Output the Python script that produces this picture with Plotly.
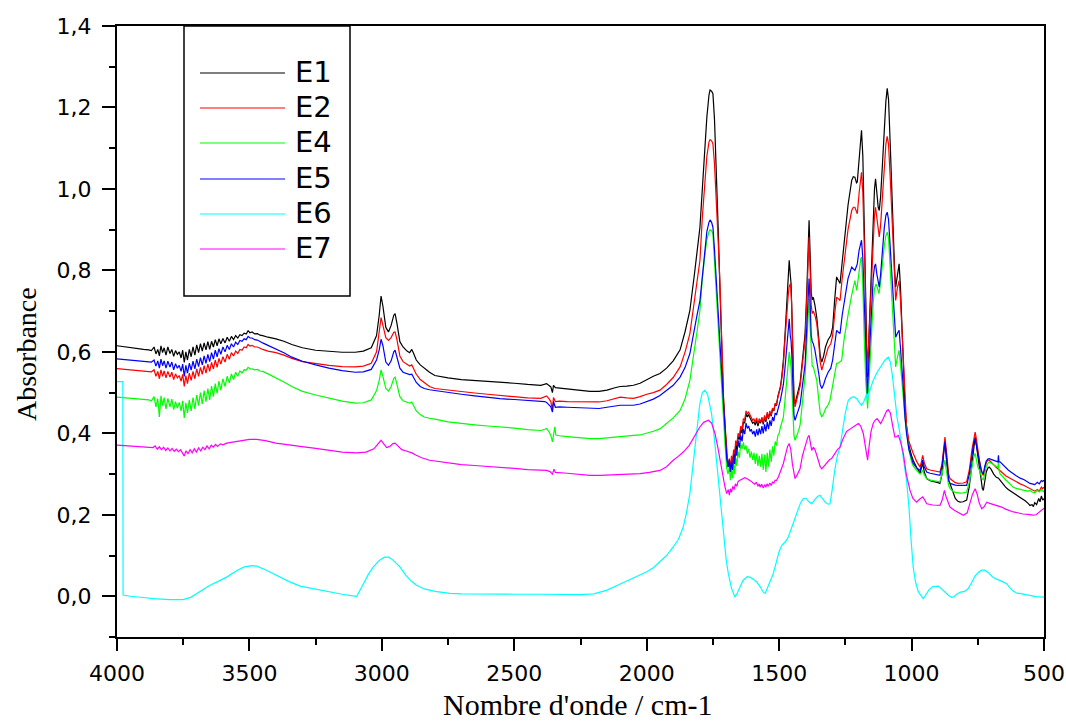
import plotly.graph_objects as go

# FTIR absorbance spectra: (wavenumber cm-1, absorbance) pairs per sample
E1 = [(4000,0.615),(3980,0.613),(3960,0.611),(3940,0.609),(3920,0.608),(3900,0.606),(3880,0.605),(3870,0.603),
      (3860,0.612),(3853,0.595),(3846,0.606),(3840,0.590),(3834,0.615),(3828,0.598),(3822,0.610),(3815,0.592),
      (3808,0.612),(3800,0.596),(3793,0.606),(3786,0.589),(3779,0.603),(3772,0.594),(3765,0.600),(3758,0.585),
      (3752,0.604),(3746,0.574),(3740,0.600),(3734,0.580),(3727,0.606),(3720,0.588),(3713,0.612),(3706,0.592),
      (3699,0.617),(3692,0.598),(3685,0.620),(3678,0.602),(3671,0.622),(3664,0.605),(3657,0.625),(3650,0.606),
      (3643,0.626),(3636,0.612),(3629,0.630),(3622,0.615),(3615,0.632),(3608,0.620),(3600,0.633),(3592,0.622),
      (3584,0.636),(3576,0.626),(3568,0.638),(3560,0.630),(3552,0.640),(3544,0.634),(3536,0.642),(3528,0.640),
      (3520,0.646),(3512,0.644),(3505,0.652),(3498,0.647),(3490,0.649),(3480,0.644),(3470,0.645),(3460,0.641),
      (3450,0.640),(3430,0.636),(3400,0.632),(3370,0.626),(3340,0.618),(3300,0.610),(3250,0.604),(3200,0.601),
      (3150,0.599),(3100,0.599),(3070,0.602),(3040,0.610),(3020,0.640),(3010,0.690),(3003,0.737),(2996,0.712),
      (2985,0.660),(2975,0.649),(2965,0.665),(2955,0.690),(2950,0.694),(2943,0.670),(2932,0.625),(2920,0.612),
      (2905,0.602),(2895,0.598),(2887,0.606),(2880,0.596),(2870,0.580),(2855,0.568),(2840,0.560),(2820,0.550),
      (2800,0.542),(2750,0.536),(2700,0.532),(2650,0.530),(2600,0.528),(2554,0.526),(2500,0.523),(2450,0.520),
      (2400,0.518),(2378,0.522),(2370,0.517),(2362,0.514),(2356,0.500),(2352,0.518),(2345,0.512),(2330,0.511),
      (2300,0.509),(2250,0.505),(2214,0.503),(2180,0.503),(2150,0.506),(2120,0.512),(2100,0.515),(2075,0.516),
      (2050,0.518),(2025,0.523),(2000,0.532),(1975,0.540),(1950,0.547),(1925,0.560),(1900,0.578),(1874,0.605),
      (1855,0.650),(1837,0.702),(1820,0.790),(1810,0.850),(1799,0.906),(1790,1.000),(1780,1.110),(1773,1.176),
      (1765,1.230),(1761,1.243),(1755,1.240),(1750,1.234),(1744,1.170),(1738,1.070),(1730,0.900),(1723,0.743),
      (1716,0.579),(1710,0.480),(1704,0.415),(1698,0.340),(1693,0.317),(1688,0.330),(1684,0.305),(1680,0.335),
      (1676,0.318),(1672,0.350),(1668,0.340),(1664,0.372),(1660,0.360),(1655,0.392),(1650,0.385),(1645,0.410),
      (1640,0.400),(1635,0.428),(1630,0.425),(1625,0.448),(1620,0.440),(1615,0.446),(1610,0.438),(1605,0.432),
      (1600,0.425),(1595,0.428),(1590,0.420),(1585,0.432),(1580,0.418),(1575,0.430),(1570,0.425),(1565,0.436),
      (1560,0.422),(1555,0.440),(1550,0.428),(1545,0.448),(1540,0.435),(1535,0.452),(1530,0.442),(1525,0.460),
      (1520,0.455),(1515,0.472),(1510,0.468),(1505,0.490),(1500,0.500),(1495,0.515),(1490,0.540),(1484,0.579),
      (1478,0.640),(1470,0.740),(1465,0.800),(1462,0.825),(1458,0.790),(1455,0.768),(1452,0.700),(1448,0.560),
      (1444,0.490),(1440,0.473),(1435,0.485),(1430,0.500),(1421,0.523),(1412,0.580),(1402,0.645),(1395,0.760),
      (1390,0.880),(1387,0.923),(1383,0.840),(1379,0.745),(1375,0.728),(1371,0.734),(1365,0.715),(1358,0.685),
      (1350,0.630),(1345,0.590),(1339,0.575),(1332,0.590),(1325,0.612),(1315,0.630),(1305,0.640),(1298,0.660),
      (1290,0.730),(1283,0.784),(1276,0.775),(1270,0.768),(1262,0.820),(1251,0.890),(1240,0.960),(1226,1.021),
      (1220,1.030),(1214,1.029),(1208,1.015),(1205,1.017),(1198,1.080),(1192,1.135),(1189,1.144),(1184,1.080),
      (1180,0.950),(1176,0.808),(1171,0.620),(1167,0.538),(1162,0.620),(1156,0.720),(1151,0.808),(1145,0.930),
      (1140,1.000),(1136,1.025),(1131,0.990),(1126,0.955),(1122,0.947),(1117,0.980),(1110,1.060),(1103,1.150),
      (1097,1.215),(1092,1.247),(1087,1.220),(1080,1.100),(1074,0.970),(1069,0.890),(1064,0.800),(1060,0.759),
      (1054,0.790),(1047,0.816),(1042,0.760),(1036,0.660),(1031,0.563),(1025,0.470),(1019,0.415),(1010,0.370),
      (1000,0.345),(994,0.334),(980,0.315),(968,0.302),(963,0.315),(958,0.326),(952,0.305),(943,0.289),
      (930,0.284),(915,0.282),(900,0.279),(893,0.277),(885,0.300),(879,0.350),(874,0.379),(869,0.340),
      (864,0.300),(860,0.285),(855,0.277),(845,0.258),(835,0.240),(825,0.233),(817,0.231),(805,0.232),
      (792,0.236),(782,0.270),(772,0.330),(765,0.370),(760,0.391),(755,0.370),(750,0.340),(744,0.317),
      (738,0.290),(733,0.265),(729,0.260),(724,0.285),(718,0.305),(712,0.315),(707,0.317),(700,0.312),
      (690,0.300),(680,0.292),(672,0.290),(666,0.285),(655,0.275),(645,0.268),(635,0.262),(625,0.258),
      (617,0.253),(610,0.250),(600,0.246),(590,0.244),(580,0.238),(570,0.234),(560,0.228),(553,0.223),
      (545,0.225),(540,0.220),(535,0.230),(528,0.225),(520,0.240),(515,0.232),(510,0.246),(505,0.236),(500,0.240)]

E2 = [(4000,0.559),(3980,0.558),(3960,0.557),(3940,0.556),(3920,0.555),(3900,0.553),(3880,0.552),(3870,0.551),
      (3860,0.556),(3853,0.540),(3846,0.552),(3840,0.534),(3834,0.556),(3828,0.540),(3822,0.553),(3815,0.536),
      (3808,0.552),(3800,0.538),(3793,0.550),(3786,0.532),(3779,0.546),(3772,0.536),(3765,0.542),(3758,0.528),
      (3752,0.545),(3746,0.515),(3740,0.542),(3734,0.522),(3727,0.548),(3720,0.530),(3713,0.552),(3706,0.534),
      (3699,0.558),(3692,0.540),(3685,0.562),(3678,0.545),(3671,0.566),(3664,0.548),(3657,0.570),(3650,0.552),
      (3643,0.574),(3636,0.558),(3629,0.580),(3622,0.562),(3615,0.584),(3608,0.570),(3600,0.588),(3592,0.575),
      (3584,0.594),(3576,0.582),(3568,0.598),(3560,0.590),(3552,0.602),(3544,0.596),(3536,0.606),(3528,0.604),
      (3520,0.612),(3512,0.610),(3505,0.618),(3498,0.614),(3490,0.616),(3480,0.612),(3470,0.612),(3460,0.608),
      (3450,0.606),(3430,0.602),(3400,0.598),(3370,0.592),(3340,0.584),(3300,0.576),(3250,0.571),(3200,0.567),
      (3150,0.564),(3100,0.563),(3070,0.565),(3040,0.572),(3020,0.600),(3010,0.645),(3003,0.684),(2996,0.665),
      (2985,0.635),(2975,0.628),(2965,0.635),(2955,0.648),(2950,0.649),(2943,0.630),(2932,0.590),(2920,0.576),
      (2905,0.568),(2895,0.565),(2887,0.568),(2880,0.560),(2870,0.545),(2855,0.532),(2840,0.524),(2820,0.515),
      (2800,0.510),(2750,0.506),(2700,0.502),(2650,0.499),(2600,0.496),(2554,0.493),(2500,0.490),(2450,0.487),
      (2400,0.486),(2385,0.490),(2378,0.492),(2370,0.486),(2362,0.478),(2356,0.456),(2352,0.488),(2345,0.478),
      (2330,0.479),(2300,0.478),(2250,0.477),(2214,0.477),(2180,0.477),(2150,0.480),(2120,0.486),(2100,0.489),
      (2075,0.487),(2050,0.486),(2025,0.490),(2000,0.496),(1975,0.500),(1950,0.506),(1925,0.520),(1900,0.537),
      (1874,0.563),(1855,0.600),(1837,0.645),(1820,0.720),(1810,0.770),(1799,0.825),(1790,0.930),(1780,1.029),
      (1773,1.080),(1765,1.115),(1761,1.121),(1755,1.118),(1750,1.111),(1744,1.060),(1738,0.989),(1730,0.870),
      (1723,0.760),(1716,0.600),(1710,0.490),(1704,0.420),(1698,0.350),(1693,0.320),(1688,0.338),(1684,0.312),
      (1680,0.345),(1676,0.325),(1672,0.360),(1668,0.348),(1664,0.382),(1660,0.370),(1655,0.400),(1650,0.392),
      (1645,0.418),(1640,0.410),(1635,0.436),(1630,0.432),(1625,0.455),(1620,0.448),(1615,0.452),(1610,0.444),
      (1605,0.440),(1600,0.432),(1595,0.436),(1590,0.426),(1585,0.438),(1580,0.424),(1575,0.436),(1570,0.428),
      (1565,0.440),(1560,0.426),(1555,0.444),(1550,0.432),(1545,0.452),(1540,0.438),(1535,0.455),(1530,0.444),
      (1525,0.462),(1520,0.456),(1515,0.474),(1510,0.470),(1505,0.488),(1500,0.498),(1495,0.512),(1490,0.535),
      (1484,0.570),(1478,0.630),(1470,0.710),(1465,0.745),(1462,0.760),(1457,0.768),(1453,0.720),(1449,0.600),
      (1445,0.500),(1440,0.465),(1435,0.478),(1430,0.492),(1421,0.515),(1412,0.570),(1402,0.630),(1395,0.740),
      (1390,0.850),(1387,0.882),(1383,0.800),(1379,0.715),(1375,0.694),(1371,0.700),(1365,0.690),(1358,0.670),
      (1350,0.620),(1345,0.575),(1339,0.555),(1332,0.570),(1325,0.590),(1315,0.610),(1305,0.620),(1298,0.640),
      (1290,0.695),(1283,0.734),(1276,0.730),(1270,0.726),(1262,0.780),(1251,0.840),(1240,0.900),(1226,0.947),
      (1220,0.955),(1214,0.955),(1208,0.940),(1205,0.939),(1198,0.990),(1192,1.035),(1189,1.041),(1184,0.990),
      (1180,0.900),(1176,0.800),(1171,0.620),(1167,0.547),(1162,0.620),(1156,0.700),(1151,0.780),(1145,0.880),
      (1140,0.935),(1136,0.955),(1131,0.925),(1126,0.890),(1122,0.882),(1117,0.910),(1110,0.980),(1103,1.060),
      (1097,1.110),(1092,1.129),(1087,1.110),(1080,1.020),(1074,0.920),(1069,0.860),(1064,0.770),(1060,0.726),
      (1054,0.755),(1047,0.775),(1042,0.730),(1036,0.640),(1031,0.560),(1025,0.470),(1019,0.420),(1010,0.380),
      (1000,0.360),(994,0.351),(980,0.330),(968,0.317),(963,0.330),(958,0.346),(952,0.328),(943,0.313),
      (930,0.310),(915,0.308),(900,0.306),(893,0.305),(885,0.325),(879,0.370),(874,0.391),(869,0.360),
      (864,0.320),(860,0.300),(855,0.289),(845,0.283),(835,0.279),(825,0.277),(817,0.277),(805,0.278),
      (792,0.281),(782,0.310),(772,0.360),(765,0.390),(760,0.403),(755,0.385),(750,0.355),(744,0.334),
      (738,0.315),(733,0.300),(729,0.297),(724,0.315),(718,0.328),(712,0.334),(707,0.334),(700,0.330),
      (690,0.322),(680,0.316),(672,0.312),(666,0.309),(655,0.302),(645,0.296),(635,0.292),(625,0.288),
      (617,0.285),(605,0.280),(590,0.276),(575,0.272),(560,0.266),(553,0.264),(545,0.262),(535,0.258),
      (525,0.262),(518,0.258),(510,0.268),(505,0.264),(500,0.268)]

E4 = [(4000,0.489),(3980,0.488),(3960,0.486),(3940,0.485),(3920,0.484),(3900,0.483),(3880,0.482),(3870,0.480),
      (3860,0.490),(3853,0.465),(3846,0.485),(3840,0.440),(3834,0.492),(3828,0.468),(3822,0.488),(3815,0.460),
      (3808,0.486),(3800,0.465),(3793,0.484),(3786,0.458),(3779,0.478),(3772,0.462),(3765,0.476),(3758,0.455),
      (3752,0.480),(3746,0.438),(3740,0.475),(3734,0.450),(3727,0.482),(3720,0.455),(3713,0.488),(3706,0.460),
      (3699,0.494),(3692,0.468),(3685,0.500),(3678,0.472),(3671,0.505),(3664,0.478),(3657,0.510),(3650,0.482),
      (3643,0.516),(3636,0.490),(3629,0.522),(3622,0.498),(3615,0.528),(3608,0.506),(3600,0.534),(3592,0.515),
      (3584,0.540),(3576,0.524),(3568,0.546),(3560,0.532),(3552,0.550),(3544,0.540),(3536,0.553),(3528,0.548),
      (3520,0.556),(3512,0.555),(3505,0.562),(3498,0.558),(3490,0.558),(3480,0.556),(3470,0.557),(3460,0.553),
      (3450,0.552),(3430,0.546),(3400,0.537),(3370,0.526),(3340,0.515),(3300,0.503),(3250,0.494),(3200,0.486),
      (3150,0.479),(3100,0.474),(3070,0.475),(3040,0.482),(3020,0.505),(3010,0.530),(3003,0.556),(2996,0.540),
      (2985,0.510),(2975,0.504),(2965,0.515),(2955,0.535),(2950,0.538),(2943,0.520),(2932,0.490),(2920,0.480),
      (2905,0.476),(2895,0.474),(2887,0.477),(2880,0.468),(2870,0.455),(2855,0.446),(2840,0.440),(2820,0.437),
      (2800,0.435),(2750,0.428),(2700,0.424),(2650,0.421),(2600,0.418),(2554,0.416),(2500,0.413),(2450,0.409),
      (2400,0.407),(2385,0.410),(2378,0.412),(2370,0.405),(2362,0.395),(2356,0.379),(2352,0.398),(2347,0.416),
      (2343,0.396),(2330,0.394),(2300,0.392),(2250,0.389),(2214,0.387),(2180,0.387),(2150,0.389),(2120,0.392),
      (2100,0.393),(2075,0.394),(2050,0.395),(2025,0.396),(2000,0.400),(1975,0.405),(1950,0.411),(1925,0.425),
      (1900,0.438),(1874,0.456),(1855,0.485),(1837,0.530),(1820,0.600),(1810,0.650),(1799,0.702),(1790,0.780),
      (1780,0.841),(1773,0.875),(1765,0.895),(1761,0.900),(1755,0.897),(1750,0.890),(1744,0.820),(1738,0.750),
      (1730,0.660),(1723,0.580),(1716,0.480),(1710,0.420),(1704,0.370),(1698,0.315),(1693,0.300),(1688,0.318),
      (1684,0.285),(1680,0.310),(1676,0.290),(1672,0.325),(1668,0.300),(1664,0.340),(1660,0.320),(1655,0.355),
      (1650,0.340),(1645,0.375),(1640,0.362),(1635,0.378),(1630,0.360),(1625,0.370),(1620,0.350),(1615,0.362),
      (1610,0.340),(1605,0.355),(1600,0.335),(1595,0.352),(1590,0.325),(1585,0.350),(1580,0.320),(1575,0.345),
      (1570,0.318),(1565,0.350),(1560,0.310),(1555,0.348),(1550,0.305),(1545,0.352),(1540,0.318),(1535,0.360),
      (1530,0.330),(1525,0.368),(1520,0.345),(1515,0.380),(1510,0.370),(1505,0.395),(1500,0.400),(1495,0.415),
      (1490,0.428),(1484,0.440),(1478,0.480),(1470,0.540),(1465,0.585),(1462,0.600),(1458,0.580),(1455,0.560),
      (1452,0.510),(1448,0.440),(1444,0.395),(1440,0.383),(1435,0.390),(1430,0.400),(1421,0.420),(1412,0.470),
      (1402,0.540),(1395,0.630),(1390,0.705),(1387,0.730),(1383,0.660),(1379,0.590),(1375,0.565),(1371,0.563),
      (1365,0.550),(1358,0.530),(1350,0.480),(1345,0.450),(1339,0.440),(1332,0.448),(1325,0.460),(1315,0.470),
      (1308,0.481),(1298,0.520),(1290,0.555),(1283,0.572),(1277,0.572),(1270,0.575),(1264,0.579),(1255,0.630),
      (1248,0.660),(1239,0.694),(1226,0.740),(1214,0.775),(1207,0.751),(1198,0.800),(1192,0.828),(1189,0.833),
      (1184,0.760),(1178,0.620),(1173,0.530),(1166,0.461),(1160,0.540),(1156,0.600),(1151,0.653),(1145,0.720),
      (1140,0.755),(1134,0.767),(1128,0.755),(1123,0.743),(1117,0.770),(1110,0.820),(1103,0.860),(1097,0.885),
      (1092,0.894),(1087,0.880),(1080,0.800),(1074,0.740),(1069,0.694),(1064,0.620),(1060,0.563),(1054,0.585),
      (1047,0.604),(1042,0.570),(1037,0.530),(1031,0.480),(1025,0.440),(1019,0.407),(1010,0.360),(1000,0.330),
      (994,0.320),(981,0.309),(968,0.300),(963,0.303),(958,0.309),(952,0.298),(943,0.289),(930,0.285),
      (915,0.283),(900,0.282),(893,0.281),(885,0.300),(879,0.325),(874,0.334),(869,0.310),(864,0.285),
      (860,0.272),(855,0.265),(845,0.258),(835,0.255),(825,0.254),(817,0.253),(805,0.254),(792,0.256),
      (782,0.280),(772,0.320),(765,0.342),(760,0.351),(755,0.335),(750,0.318),(744,0.310),(738,0.295),
      (733,0.288),(729,0.285),(724,0.300),(718,0.318),(712,0.326),(707,0.330),(700,0.327),(690,0.322),
      (680,0.318),(674,0.316),(672,0.332),(670,0.310),(666,0.301),(655,0.292),(645,0.286),(635,0.280),
      (625,0.274),(617,0.268),(605,0.265),(590,0.262),(575,0.260),(560,0.258),(553,0.260),(545,0.256),
      (535,0.254),(525,0.260),(518,0.256),(510,0.262),(505,0.258),(500,0.256)]

E5 = [(4000,0.583),(3980,0.582),(3960,0.580),(3940,0.579),(3920,0.578),(3900,0.577),(3880,0.576),(3870,0.575),
      (3860,0.580),(3853,0.565),(3846,0.578),(3840,0.560),(3834,0.582),(3828,0.566),(3822,0.578),(3815,0.560),
      (3808,0.577),(3800,0.563),(3793,0.575),(3786,0.556),(3779,0.571),(3772,0.560),(3765,0.567),(3758,0.552),
      (3752,0.570),(3746,0.540),(3740,0.567),(3734,0.548),(3727,0.572),(3720,0.555),(3713,0.577),(3706,0.558),
      (3699,0.582),(3692,0.564),(3685,0.586),(3678,0.568),(3671,0.590),(3664,0.572),(3657,0.594),(3650,0.576),
      (3643,0.598),(3636,0.582),(3629,0.604),(3622,0.588),(3615,0.608),(3608,0.594),(3600,0.612),(3592,0.600),
      (3584,0.616),(3576,0.606),(3568,0.620),(3560,0.612),(3552,0.624),(3544,0.618),(3536,0.628),(3528,0.626),
      (3520,0.632),(3512,0.630),(3505,0.638),(3498,0.634),(3490,0.634),(3480,0.630),(3470,0.629),(3460,0.625),
      (3450,0.622),(3430,0.616),(3400,0.608),(3370,0.598),(3340,0.587),(3300,0.577),(3250,0.568),(3200,0.560),
      (3150,0.554),(3100,0.550),(3070,0.551),(3040,0.557),(3020,0.580),(3010,0.605),(3003,0.631),(2996,0.615),
      (2985,0.575),(2975,0.567),(2965,0.578),(2955,0.600),(2950,0.604),(2943,0.585),(2932,0.560),(2920,0.550),
      (2905,0.546),(2895,0.544),(2887,0.545),(2880,0.538),(2870,0.525),(2855,0.515),(2840,0.510),(2820,0.507),
      (2800,0.505),(2750,0.500),(2700,0.496),(2650,0.492),(2600,0.488),(2554,0.485),(2500,0.483),(2450,0.481),
      (2400,0.479),(2385,0.478),(2378,0.476),(2370,0.470),(2362,0.465),(2356,0.452),(2352,0.478),(2345,0.464),
      (2330,0.465),(2300,0.464),(2250,0.462),(2214,0.461),(2180,0.461),(2150,0.464),(2120,0.468),(2100,0.469),
      (2075,0.469),(2050,0.469),(2025,0.472),(2000,0.478),(1975,0.484),(1950,0.493),(1925,0.505),(1900,0.518),
      (1874,0.538),(1855,0.562),(1837,0.596),(1820,0.650),(1810,0.690),(1799,0.726),(1790,0.790),(1780,0.857),
      (1773,0.895),(1765,0.918),(1761,0.924),(1755,0.918),(1750,0.906),(1744,0.850),(1738,0.784),(1730,0.700),
      (1723,0.620),(1716,0.520),(1710,0.450),(1704,0.400),(1698,0.340),(1693,0.318),(1688,0.335),(1684,0.305),
      (1680,0.330),(1676,0.310),(1672,0.345),(1668,0.325),(1664,0.362),(1660,0.345),(1655,0.382),(1650,0.365),
      (1645,0.395),(1640,0.380),(1635,0.410),(1630,0.398),(1625,0.425),(1620,0.412),(1615,0.418),(1610,0.405),
      (1605,0.410),(1600,0.398),(1595,0.406),(1590,0.392),(1585,0.410),(1580,0.395),(1575,0.412),(1570,0.398),
      (1565,0.418),(1560,0.400),(1555,0.422),(1550,0.405),(1545,0.428),(1540,0.410),(1535,0.432),(1530,0.418),
      (1525,0.440),(1520,0.430),(1515,0.450),(1510,0.445),(1505,0.462),(1500,0.470),(1495,0.482),(1490,0.500),
      (1484,0.520),(1478,0.560),(1470,0.620),(1465,0.665),(1462,0.681),(1458,0.640),(1455,0.628),(1452,0.590),
      (1448,0.500),(1444,0.445),(1440,0.432),(1435,0.440),(1430,0.452),(1421,0.470),(1412,0.515),(1402,0.570),
      (1395,0.670),(1390,0.750),(1387,0.780),(1383,0.720),(1379,0.640),(1375,0.625),(1371,0.620),(1365,0.605),
      (1358,0.580),(1350,0.545),(1345,0.520),(1339,0.510),(1332,0.520),(1325,0.535),(1315,0.550),(1305,0.560),
      (1298,0.580),(1290,0.625),(1283,0.653),(1276,0.648),(1270,0.645),(1262,0.690),(1251,0.740),(1240,0.780),
      (1226,0.808),(1220,0.805),(1214,0.800),(1208,0.810),(1205,0.816),(1198,0.850),(1192,0.870),(1189,0.874),
      (1184,0.830),(1180,0.760),(1176,0.680),(1171,0.560),(1167,0.497),(1162,0.560),(1156,0.640),(1151,0.700),
      (1145,0.780),(1140,0.810),(1136,0.816),(1131,0.790),(1126,0.765),(1122,0.759),(1117,0.790),(1110,0.850),
      (1103,0.905),(1097,0.935),(1092,0.943),(1087,0.925),(1080,0.850),(1074,0.780),(1069,0.730),(1064,0.665),
      (1060,0.636),(1054,0.645),(1047,0.653),(1042,0.610),(1036,0.560),(1031,0.510),(1025,0.440),(1019,0.400),
      (1010,0.360),(1000,0.336),(994,0.326),(980,0.315),(968,0.309),(963,0.320),(958,0.334),(952,0.318),
      (943,0.305),(930,0.302),(915,0.300),(900,0.298),(893,0.297),(885,0.320),(879,0.360),(874,0.379),
      (869,0.350),(864,0.305),(860,0.285),(855,0.277),(845,0.274),(835,0.273),(825,0.272),(817,0.272),
      (805,0.272),(792,0.272),(782,0.300),(772,0.350),(765,0.378),(760,0.387),(755,0.370),(750,0.345),
      (744,0.330),(738,0.312),(733,0.303),(729,0.301),(724,0.318),(718,0.332),(712,0.337),(707,0.338),
      (700,0.336),(690,0.333),(680,0.331),(674,0.330),(672,0.346),(670,0.330),(666,0.330),(655,0.322),
      (645,0.316),(635,0.310),(625,0.305),(617,0.301),(605,0.296),(590,0.290),(575,0.286),(560,0.280),
      (553,0.277),(545,0.276),(535,0.274),(525,0.280),(518,0.276),(510,0.284),(505,0.282),(500,0.285)]

E6 = [(4000,0.527),(3990,0.527),(3978,0.527),(3977,0.003),(3950,0.000),(3900,-0.003),(3864,-0.006),(3800,-0.008),
      (3751,-0.008),(3720,-0.002),(3690,0.010),(3649,0.027),(3620,0.036),(3586,0.047),(3550,0.062),(3520,0.072),
      (3490,0.075),(3473,0.074),(3440,0.065),(3410,0.055),(3385,0.047),(3350,0.036),(3309,0.025),(3250,0.017),
      (3200,0.010),(3150,0.005),(3110,0.001),(3095,0.000),(3070,0.030),(3050,0.055),(3032,0.072),(3010,0.088),
      (2990,0.096),(2975,0.096),(2960,0.090),(2945,0.080),(2932,0.072),(2910,0.052),(2890,0.038),(2869,0.027),
      (2840,0.018),(2800,0.012),(2743,0.007),(2700,0.006),(2600,0.005),(2500,0.005),(2400,0.005),(2300,0.004),
      (2250,0.004),(2200,0.006),(2150,0.015),(2100,0.030),(2060,0.042),(2025,0.052),(2000,0.060),(1975,0.070),
      (1950,0.084),(1925,0.100),(1900,0.121),(1880,0.140),(1862,0.170),(1850,0.205),(1837,0.252),(1825,0.320),
      (1811,0.407),(1800,0.470),(1790,0.500),(1780,0.506),(1770,0.495),(1763,0.475),(1755,0.448),(1745,0.390),
      (1735,0.320),(1723,0.244),(1710,0.150),(1700,0.090),(1692,0.056),(1680,0.020),(1667,-0.002),(1658,0.008),
      (1648,0.023),(1635,0.040),(1620,0.048),(1610,0.047),(1598,0.042),(1585,0.035),(1570,0.022),(1560,0.010),
      (1553,0.007),(1545,0.018),(1535,0.035),(1522,0.056),(1510,0.085),(1500,0.110),(1490,0.125),(1484,0.129),
      (1475,0.135),(1465,0.146),(1455,0.165),(1445,0.185),(1434,0.203),(1420,0.228),(1409,0.240),(1398,0.240),
      (1390,0.233),(1377,0.227),(1365,0.238),(1355,0.245),(1346,0.248),(1335,0.240),(1325,0.230),(1315,0.226),
      (1308,0.227),(1300,0.260),(1290,0.310),(1280,0.345),(1270,0.366),(1260,0.410),(1250,0.450),(1239,0.481),
      (1228,0.488),(1218,0.490),(1207,0.485),(1198,0.476),(1189,0.469),(1180,0.478),(1175,0.490),(1170,0.497),
      (1167,0.481),(1163,0.495),(1155,0.510),(1145,0.530),(1130,0.550),(1115,0.565),(1100,0.580),(1088,0.587),
      (1080,0.575),(1072,0.540),(1063,0.481),(1055,0.440),(1044,0.399),(1035,0.350),(1027,0.320),(1019,0.285),
      (1010,0.220),(1002,0.140),(994,0.072),(985,0.035),(975,0.012),(965,0.002),(956,-0.006),(945,0.005),
      (935,0.015),(920,0.024),(905,0.026),(899,0.025),(890,0.020),(875,0.010),(860,0.002),(850,-0.002),
      (842,-0.002),(830,0.005),(815,0.010),(800,0.012),(786,0.019),(772,0.035),(760,0.050),(745,0.060),
      (735,0.064),(723,0.064),(710,0.058),(695,0.048),(680,0.042),(666,0.039),(655,0.035),(641,0.031),
      (630,0.022),(615,0.012),(600,0.007),(591,0.007),(570,0.004),(550,0.001),(530,-0.001),(504,-0.002),(500,-0.002)]

E7 = [(4000,0.371),(3980,0.370),(3960,0.369),(3940,0.368),(3920,0.368),(3900,0.367),(3880,0.366),(3864,0.365),
      (3856,0.369),(3848,0.361),(3840,0.367),(3832,0.360),(3824,0.366),(3816,0.358),(3808,0.364),(3800,0.357),
      (3792,0.363),(3784,0.356),(3776,0.361),(3768,0.355),(3760,0.360),(3752,0.352),(3746,0.344),(3740,0.357),
      (3732,0.350),(3724,0.360),(3716,0.352),(3708,0.362),(3700,0.354),(3692,0.364),(3684,0.357),(3676,0.366),
      (3668,0.360),(3660,0.369),(3652,0.362),(3644,0.371),(3636,0.366),(3628,0.373),(3620,0.368),(3610,0.374),
      (3600,0.372),(3586,0.376),(3560,0.379),(3530,0.382),(3500,0.385),(3473,0.385),(3440,0.382),(3400,0.376),
      (3350,0.371),(3309,0.368),(3250,0.363),(3200,0.358),(3150,0.354),(3095,0.352),(3060,0.354),(3030,0.362),
      (3015,0.374),(3003,0.383),(2995,0.376),(2982,0.365),(2970,0.368),(2958,0.375),(2950,0.376),(2940,0.370),
      (2925,0.360),(2905,0.356),(2887,0.352),(2870,0.346),(2850,0.340),(2820,0.334),(2800,0.332),(2743,0.326),
      (2700,0.323),(2650,0.321),(2600,0.319),(2554,0.317),(2500,0.314),(2450,0.311),(2400,0.309),(2378,0.309),
      (2365,0.306),(2356,0.300),(2350,0.312),(2345,0.304),(2300,0.302),(2250,0.299),(2214,0.297),(2176,0.297),
      (2140,0.298),(2100,0.299),(2050,0.301),(2025,0.301),(1990,0.304),(1950,0.309),(1925,0.318),(1900,0.334),
      (1880,0.344),(1862,0.354),(1840,0.370),(1818,0.395),(1800,0.415),(1785,0.427),(1767,0.432),(1755,0.425),
      (1742,0.399),(1730,0.360),(1717,0.309),(1705,0.270),(1698,0.252),(1692,0.262),(1688,0.248),(1684,0.264),
      (1680,0.255),(1675,0.270),(1670,0.262),(1665,0.276),(1660,0.270),(1655,0.282),(1648,0.285),(1640,0.288),
      (1630,0.291),(1622,0.289),(1612,0.286),(1605,0.282),(1598,0.278),(1592,0.275),(1586,0.280),(1580,0.270),
      (1575,0.276),(1572,0.268),(1566,0.275),(1560,0.266),(1555,0.274),(1550,0.268),(1545,0.276),(1541,0.270),
      (1535,0.278),(1530,0.272),(1525,0.280),(1520,0.278),(1515,0.285),(1510,0.284),(1503,0.293),(1495,0.305),
      (1484,0.326),(1475,0.350),(1468,0.368),(1462,0.375),(1456,0.360),(1450,0.325),(1444,0.295),(1440,0.289),
      (1432,0.298),(1421,0.313),(1412,0.345),(1400,0.375),(1392,0.390),(1387,0.395),(1382,0.375),(1377,0.358),
      (1371,0.366),(1365,0.360),(1355,0.340),(1345,0.318),(1339,0.313),(1330,0.320),(1320,0.328),(1310,0.335),
      (1302,0.338),(1290,0.350),(1280,0.360),(1270,0.366),(1260,0.385),(1245,0.405),(1230,0.412),(1220,0.415),
      (1210,0.420),(1201,0.424),(1192,0.418),(1182,0.399),(1175,0.370),(1170,0.345),(1166,0.334),(1160,0.370),
      (1153,0.405),(1145,0.424),(1138,0.432),(1130,0.436),(1124,0.430),(1117,0.424),(1110,0.432),(1100,0.448),
      (1094,0.455),(1088,0.458),(1080,0.450),(1072,0.420),(1063,0.391),(1056,0.392),(1050,0.395),(1042,0.380),
      (1031,0.350),(1020,0.300),(1006,0.260),(995,0.240),(981,0.231),(970,0.238),(958,0.244),(950,0.236),
      (943,0.227),(920,0.224),(893,0.223),(885,0.235),(880,0.252),(876,0.260),(870,0.245),(862,0.228),
      (855,0.219),(840,0.212),(825,0.206),(805,0.199),(790,0.205),(780,0.225),(770,0.250),(760,0.264),
      (752,0.250),(745,0.230),(735,0.215),(726,0.220),(716,0.231),(705,0.228),(690,0.225),(672,0.223),
      (660,0.219),(645,0.214),(630,0.210),(616,0.207),(600,0.205),(580,0.202),(560,0.201),(541,0.199),
      (530,0.200),(520,0.205),(510,0.210),(500,0.216)]

sample_names = ["E1", "E2", "E4", "E5", "E6", "E7"]
sample_colors = ["#000000", "#ff0000", "#00ff00", "#0000ff", "#00ffff", "#ff00ff"]
spectra = [E1, E2, E4, E5, E6, E7]

x_tick_values = [4000, 3500, 3000, 2500, 2000, 1500, 1000, 500]
x_tick_labels = ["4000", "3500", "3000", "2500", "2000", "1500", "1000", "500"]
y_tick_values = [0.0, 0.2, 0.4, 0.6, 0.8, 1.0, 1.2, 1.4]
y_tick_labels = ["0,0", "0,2", "0,4", "0,6", "0,8", "1,0", "1,2", "1,4"]

W, H = 1066, 724
ML, MR, MT, MB = 117, 22, 26, 87
PW, PH = W - ML - MR, H - MT - MB


def px_x(px):
    return (px - ML) / PW


def px_y(py):
    return (H - MB - py) / PH


fig = go.Figure()
for name, color, data in zip(sample_names, sample_colors, spectra):
    wn = [p[0] for p in data]
    ab = [p[1] for p in data]
    fig.add_trace(go.Scatter(x=wn, y=ab, mode="lines", name=name,
                             line=dict(color=color, width=1.2), showlegend=False,
                             hoverinfo="skip"))

# boxed legend in the upper-left corner of the frame
shapes = [dict(type="rect", xref="paper", yref="paper",
               x0=px_x(184), x1=px_x(350), y0=px_y(296), y1=px_y(26),
               line=dict(color="black", width=1.5), fillcolor="white", layer="below")]
annotations = []
row_y = [73, 108, 143, 179, 214, 249]
for name, color, ry in zip(sample_names, sample_colors, row_y):
    shapes.append(dict(type="line", xref="paper", yref="paper",
                       x0=px_x(200), x1=px_x(285), y0=px_y(ry), y1=px_y(ry),
                       line=dict(color=color, width=1.2)))
    annotations.append(dict(text=name, xref="paper", yref="paper",
                            x=px_x(293), y=px_y(ry - 1), xanchor="left", yanchor="middle",
                            showarrow=False,
                            font=dict(family="DejaVu Sans", size=29, color="black")))

annotations.append(dict(text="Nombre d'onde / cm-1", xref="paper", yref="paper",
                        x=px_x(578), y=px_y(704), xanchor="center", yanchor="middle",
                        showarrow=False,
                        font=dict(family="Liberation Serif", size=30, color="black")))
annotations.append(dict(text="Absorbance", xref="paper", yref="paper",
                        x=px_x(26), y=px_y(354), xanchor="center", yanchor="middle",
                        textangle=-90, showarrow=False,
                        font=dict(family="Liberation Serif", size=28, color="black")))

fig.update_layout(
    width=W, height=H,
    margin=dict(l=ML, r=MR, t=MT, b=MB, pad=0, autoexpand=False),
    paper_bgcolor="white", plot_bgcolor="white",
    shapes=shapes, annotations=annotations,
    font=dict(family="DejaVu Sans", size=22, color="black"),
)
fig.update_xaxes(
    range=[4000, 500], tickmode="array", tickvals=x_tick_values, ticktext=x_tick_labels,
    ticks="outside", ticklen=12, tickwidth=2, tickcolor="black", automargin=False,
    showline=True, linewidth=2, linecolor="black", mirror=True,
    showgrid=False, zeroline=False, ticklabelstandoff=4,
    minor=dict(ticks="outside", ticklen=6, tickwidth=2, tickcolor="black", dtick=250, tick0=500, showgrid=False),
)
fig.update_yaxes(
    range=[-0.1, 1.4], tickmode="array", tickvals=y_tick_values, ticktext=y_tick_labels,
    ticks="outside", ticklen=13, tickwidth=2, tickcolor="black", automargin=False,
    showline=True, linewidth=2, linecolor="black", mirror=True,
    showgrid=False, zeroline=False, ticklabelstandoff=6,
    minor=dict(ticks="outside", ticklen=6, tickwidth=2, tickcolor="black", dtick=0.1, tick0=0, showgrid=False),
)

fig.write_html("out.html")
